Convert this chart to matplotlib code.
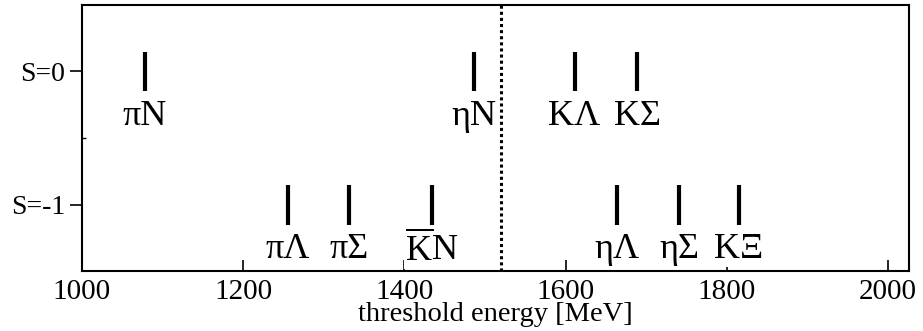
import matplotlib
matplotlib.use("Agg")
import matplotlib.pyplot as plt

plt.rcParams['font.family'] = ['Liberation Serif', 'DejaVu Serif']
plt.rcParams['mathtext.fontset'] = 'custom'
plt.rcParams['mathtext.rm'] = 'Liberation Serif'

# threshold energies [MeV] for the meson-baryon channels
s0_channels = ['πN', 'ηN', 'KΛ', 'KΣ']
s0_energies = [1078, 1486, 1611, 1689]
s1_channels = ['πΛ', 'πΣ', r'$\overline{\mathrm{K}}\mathrm{N}$', 'ηΛ', 'ηΣ', 'KΞ']
s1_energies = [1255, 1331, 1434, 1664, 1741, 1815]
strangeness = [0, -1]
strangeness_labels = ['S=0', 'S=-1']
dotted_energy = 1520

fig = plt.figure(figsize=(9.23, 3.31), dpi=100)
ax = fig.add_axes([0.0888, 0.181, 0.8962, 0.804])

half = 0.15
for s, chans, energies in [(0, s0_channels, s0_energies), (-1, s1_channels, s1_energies)]:
    ax.vlines(energies, s - half, s + half, colors='black', linewidth=3.0, zorder=3)
    for e, name in zip(energies, chans):
        ax.text(e, s - 0.34, name, ha='center', va='center', fontsize=26,
                zorder=4, bbox=dict(facecolor='white', edgecolor='none', pad=0.5))

ax.axvline(dotted_energy, color='black', linestyle=(0, (1, 1)), linewidth=2.2, zorder=2)

ax.set_xlim(1000, 2026)
ax.set_ylim(-1.5, 0.5)
ax.set_xticks([1000, 1200, 1400, 1600, 1800, 2000])
ax.set_yticks(strangeness)
ax.set_yticklabels(strangeness_labels)
ax.set_yticks([-0.5], minor=True)
ax.tick_params(axis='x', direction='in', length=8, width=1.2, labelsize=21, pad=6)
ax.tick_params(axis='y', direction='out', length=9, width=1.2, labelsize=20, pad=3)
ax.tick_params(axis='y', which='minor', direction='in', length=3, width=1.0)
for sp in ax.spines.values():
    sp.set_linewidth(1.5)
    sp.set_zorder(1)

ax.set_xlabel('threshold energy [MeV]', fontsize=20.5)
ax.xaxis.set_label_coords(0.5, -0.118)

fig.savefig('out.png', dpi=100)
